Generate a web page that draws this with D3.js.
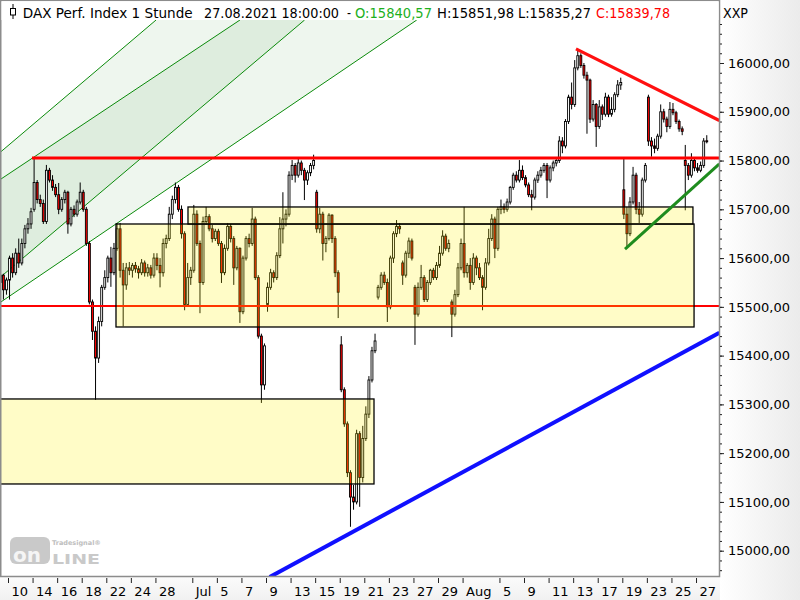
<!DOCTYPE html>
<html><head><meta charset="utf-8">
<script src="https://cdn.jsdelivr.net/npm/d3@7/dist/d3.min.js"></script>
<style>html,body{margin:0;padding:0;background:#fff;}svg{display:block;font-family:"DejaVu Sans",Tahoma,sans-serif;}</style>
</head><body><svg id="c" width="800" height="600"></svg>
<script>
// ---- DATA ----
// hourly candles aggregated, 4 per trading day, starting with Jun 9 (day -1)
const ohlc = [
[15555,15575,15540,15550],[15550,15570,15545,15565],[15565,15568,15515,15535],[15535,15560,15525,15555],
[15555,15605,15515,15600],[15600,15610,15560,15570],[15570,15620,15565,15610],[15610,15640,15580,15590],
[15590,15640,15585,15630],[15630,15668,15620,15660],[15660,15682,15650,15670],[15670,15703,15660,15695],
[15700,15806,15695,15755],[15755,15760,15712,15720],[15720,15730,15705,15712],[15712,15720,15670,15675],
[15675,15791,15670,15780],[15780,15785,15755,15760],[15760,15770,15738,15745],[15745,15752,15725,15730],
[15730,15754,15690,15700],[15700,15725,15695,15720],[15720,15740,15712,15735],[15735,15738,15650,15670],
[15670,15705,15665,15700],[15700,15708,15684,15690],[15690,15720,15685,15715],[15715,15755,15710,15735],
[15735,15740,15695,15700],[15700,15705,15625,15630],[15630,15635,15505,15510],[15510,15515,15432,15450],
[15450,15460,15309,15395],[15395,15480,15385,15470],[15470,15545,15460,15540],[15540,15575,15535,15560],
[15560,15605,15550,15600],[15600,15623,15541,15570],[15570,15631,15565,15620],[15620,15672,15615,15660],
[15660,15672,15560,15575],[15575,15590,15460,15545],[15545,15590,15535,15580],[15580,15592,15565,15575],
[15575,15590,15560,15585],[15585,15592,15570,15578],[15578,15584,15558,15570],[15570,15598,15565,15590],
[15590,15595,15562,15570],[15570,15588,15562,15580],[15580,15586,15558,15565],[15565,15610,15560,15600],
[15600,15610,15575,15585],[15585,15600,15540,15570],[15570,15640,15562,15630],[15630,15648,15620,15640],
[15640,15705,15635,15690],[15690,15728,15680,15720],[15720,15755,15712,15745],[15745,15750,15695,15700],
[15700,15708,15640,15650],[15650,15655,15493,15505],[15505,15590,15500,15560],[15560,15582,15545,15575],
[15575,15709,15570,15690],[15690,15698,15625,15630],[15630,15636,15487,15550],[15550,15685,15545,15675],
[15675,15705,15668,15685],[15685,15690,15655,15660],[15660,15668,15632,15640],[15640,15660,15635,15655],
[15655,15660,15625,15630],[15630,15635,15549,15570],[15570,15628,15565,15620],[15620,15672,15615,15665],
[15665,15670,15632,15640],[15640,15645,15545,15580],[15580,15625,15575,15620],[15620,15622,15467,15490],
[15490,15605,15485,15600],[15600,15645,15595,15640],[15640,15650,15622,15630],[15630,15703,15625,15680],
[15680,15685,15555,15560],[15560,15565,15435,15440],[15440,15445,15303,15340],[15340,15425,15330,15420],
[15505,15550,15490,15540],[15540,15578,15535,15570],[15570,15575,15550,15560],[15560,15612,15555,15605],
[15605,15684,15600,15660],[15660,15735,15630,15680],[15680,15700,15665,15690],[15690,15778,15685,15770],
[15770,15801,15760,15790],[15790,15795,15755,15770],[15770,15807,15765,15795],[15795,15800,15770,15780],
[15780,15785,15719,15760],[15760,15780,15750,15775],[15775,15795,15768,15790],[15790,15812,15782,15800],
[15735,15740,15652,15660],[15660,15703,15651,15690],[15690,15695,15595,15630],[15630,15645,15612,15640],
[15640,15692,15636,15688],[15688,15690,15631,15640],[15640,15645,15561,15570],[15570,15575,15477,15530],
[15422,15440,15325,15330],[15330,15335,15254,15260],[15260,15265,15151,15160],[15160,15165,15049,15110],
[15110,15135,15084,15100],[15100,15248,15095,15240],[15240,15245,15090,15150],[15150,15256,15140,15230],
[15230,15296,15225,15280],[15280,15358,15272,15350],[15350,15418,15345,15410],[15410,15445,15405,15430],
[15520,15545,15515,15540],[15540,15571,15535,15565],[15565,15572,15545,15550],[15550,15558,15469,15500],
[15500,15605,15495,15600],[15600,15655,15590,15650],[15650,15678,15643,15665],[15665,15672,15650,15660],
[15590,15595,15545,15565],[15565,15615,15560,15610],[15610,15642,15600,15635],[15635,15640,15595,15600],
[15540,15545,15422,15485],[15485,15550,15480,15540],[15540,15586,15535,15560],[15560,15565,15510,15515],
[15515,15555,15510,15550],[15550,15578,15545,15575],[15575,15580,15555,15560],[15560,15592,15555,15585],
[15585,15625,15580,15610],[15610,15657,15605,15645],[15645,15650,15615,15620],[15620,15638,15612,15630],
[15510,15515,15438,15485],[15485,15535,15480,15525],[15525,15590,15520,15580],[15580,15640,15575,15630],
[15630,15705,15560,15570],[15570,15590,15560,15585],[15585,15600,15535,15550],[15550,15610,15545,15600],
[15600,15605,15565,15580],[15580,15590,15555,15560],[15560,15565,15493,15540],[15540,15600,15535,15590],
[15590,15660,15585,15640],[15640,15690,15635,15680],[15680,15685,15600,15620],[15620,15705,15615,15700],
[15700,15720,15690,15705],[15705,15712,15692,15700],[15700,15722,15695,15715],[15715,15748,15710,15745],
[15745,15775,15740,15770],[15770,15778,15755,15760],[15760,15801,15755,15780],[15780,15790,15760,15765],
[15765,15770,15745,15750],[15750,15755,15725,15730],[15730,15740,15698,15725],[15725,15765,15720,15760],
[15760,15778,15754,15770],[15770,15787,15765,15780],[15780,15795,15775,15790],[15790,15795,15723,15760],
[15760,15790,15755,15785],[15785,15800,15778,15795],[15795,15805,15788,15800],[15800,15850,15795,15840],
[15840,15848,15815,15830],[15830,15885,15825,15880],[15880,15935,15875,15930],[15930,15960,15905,15915],
[15915,16006,15910,15990],[15990,16029,15985,16015],[16015,16020,15990,15995],[15995,16000,15968,15975],
[15975,15982,15855,15965],[15965,15968,15877,15885],[15885,15924,15880,15915],[15915,15918,15828,15870],
[15870,15924,15865,15910],[15910,15915,15883,15895],[15895,15939,15890,15930],[15930,15935,15889,15895],
[15895,15930,15890,15905],[15905,15940,15899,15935],[15935,15965,15930,15955],[15955,15970,15945,15960],
[15740,15805,15680,15690],[15690,15705,15620,15650],[15650,15725,15645,15715],[15715,15787,15710,15770],
[15770,15775,15690,15700],[15700,15715,15672,15690],[15690,15765,15685,15760],[15760,15795,15755,15790],
[15930,15935,15830,15840],[15840,15848,15808,15830],[15830,15845,15815,15825],[15825,15855,15820,15850],
[15850,15915,15845,15900],[15900,15906,15878,15885],[15885,15890,15858,15870],[15870,15920,15865,15905],
[15905,15918,15893,15898],[15898,15902,15875,15880],[15880,15884,15859,15865],[15865,15870,15852,15860],
[15800,15832,15698,15790],[15790,15795,15760,15770],[15770,15815,15765,15800],[15800,15805,15778,15785],
[15785,15795,15775,15780],[15780,15798,15776,15790],[15790,15846,15785,15840],[15840.57,15851.98,15835.27,15839.78]
];
const firstDay = -1;
const candlesPerDay = 4;

const xTickDays   = [0,2,4,6,8,10,12,15,17,19,21,23,25,27,29,31,33,35,37,40,42,44,46,48,50,52,54,56];
const xTickLabels = ["10","14","16","18","22","24","28","Jul","5","7","9","13","15","19","21","23","27","29","Aug","5","9","11","13","17","19","23","25","27"];
const yMajorTicks = [15000,15100,15200,15300,15400,15500,15600,15700,15800,15900,16000];
const yMinorTicks = d3.range(14960, 16090, 20);

// drawing tools (day, price)
const hLineLevels = [15805, 15502];
const hLineStart  = [1.95, -0.7];
const channelA = [[-0.7,15815.5],[12.05,16088.2],[24.14,16088.2],[-0.7,15559.2]];
const channelB = [[-0.7,15760],[18.88,16088.2],[33.27,16088.2],[-0.7,15507.9]];
const channelLines = [
  [[-0.7,15815.5],[12.05,16088.2]],
  [[-0.7,15760],[18.88,16088.2]],
  [[-0.7,15559.2],[24.14,16088.2]],
  [[-0.7,15507.9],[33.27,16088.2]]
];
const boxes = [ // [dayFrom, dayTo, priceTop, priceBottom]
  [8.79, 55.84, 15669.9, 15458.7],
  [14.65, 55.75, 15704.8, 15669.9],
  [-0.7, 29.79, 15311.1, 15136.8]
];
const blueLine  = [[21.3,14946],[57.9,15447]];
const redDown   = [[46.23,16029],[57.9,15882]];
const greenUp   = [[50.22,15618.6],[57.9,15793]];

const header = [
  {t:"DAX Perf. Index 1 Stunde", x:22.7, w:170, c:"#000"},
  {t:"27.08.2021 18:00:00", x:204, w:135, c:"#000"},
  {t:"-", x:347, w:4, c:"#000"},
  {t:"O:15840,57", x:355, w:77, c:"#1db01d"},
  {t:"H:15851,98", x:437, w:77, c:"#000"},
  {t:"L:15835,27", x:518, w:73, c:"#000"},
  {t:"C:15839,78", x:596, w:74, c:"#ff0000"}
];

// ---- CHART ----
const svg = d3.select("#c");
const W = 800, H = 600;
const plot = {l:0, r:719, t:20, b:576};
const x = d3.scaleLinear().domain([0,57]).range([8, 8+12.286*57]);
const y = d3.scaleLinear().domain([14948.1, 16088.2]).range([576, 20]);
const loc = d3.formatLocale({decimal:",", thousands:"", grouping:[3], currency:["",""]});
const fmt = loc.format(".2f");

const defs = svg.append("defs");
const gR = defs.append("linearGradient").attr("id","gr").attr("x1","0").attr("x2","1").attr("y1","0").attr("y2","0");
gR.append("stop").attr("offset","0").attr("stop-color","#ffffff");
gR.append("stop").attr("offset","1").attr("stop-color","#ebebeb");
const gB = defs.append("linearGradient").attr("id","gb").attr("x1","0").attr("x2","0").attr("y1","0").attr("y2","1");
gB.append("stop").attr("offset","0").attr("stop-color","#fbfbfb");
gB.append("stop").attr("offset","1").attr("stop-color","#f1f1f1");
defs.append("clipPath").attr("id","clip").append("rect")
  .attr("x",plot.l).attr("y",plot.t).attr("width",plot.r-plot.l).attr("height",plot.b-plot.t);

svg.append("rect").attr("width",W).attr("height",H).attr("fill","#fff");
svg.append("rect").attr("x",0).attr("y",577).attr("width",720).attr("height",23).attr("fill","url(#gb)");
svg.append("rect").attr("x",720).attr("y",0).attr("width",80).attr("height",600).attr("fill","url(#gr)");

const g = svg.append("g").attr("clip-path","url(#clip)");
const lineGen = d3.line().x(d=>x(d[0])).y(d=>y(d[1]));

// channels
[channelA, channelB].forEach(poly=>{
  g.append("path").attr("d", lineGen(poly)+"Z").attr("fill","#007a00").attr("fill-opacity",0.068);
});
channelLines.forEach(l=>{
  g.append("path").attr("d", lineGen(l)).attr("stroke","#0a8a0a").attr("stroke-width",1).attr("fill","none");
});

// candles
const slot = (x(1)-x(0))/candlesPerDay;
const bw = slot*0.62;
const cData = ohlc.map((d,i)=>{
  const day = firstDay + Math.floor(i/candlesPerDay) + ((i%candlesPerDay)+0.5)/candlesPerDay;
  return {day, o:d[0], h:d[1], l:d[2], c:d[3]};
});
const cg = g.append("g");
cg.selectAll("line.w").data(cData).join("line").attr("class","w")
  .attr("x1",d=>x(d.day)).attr("x2",d=>x(d.day))
  .attr("y1",d=>y(d.h)).attr("y2",d=>y(d.l))
  .attr("stroke","#000").attr("stroke-width",1);
cg.selectAll("rect").data(cData).join("rect")
  .attr("x",d=>x(d.day)-bw/2).attr("width",bw)
  .attr("y",d=>y(Math.max(d.o,d.c)))
  .attr("height",d=>Math.max(1, Math.abs(y(d.o)-y(d.c))))
  .attr("fill",d=>d.c>=d.o?"#ffffff":"#ff0000")
  .attr("stroke","#000").attr("stroke-width",0.9);

// horizontal red lines
hLineLevels.forEach((p,i)=>{
  g.append("line").attr("x1",x(hLineStart[i])).attr("x2",plot.r)
    .attr("y1",y(p)).attr("y2",y(p))
    .attr("stroke","#ff0000").attr("stroke-width", i===0?3:2);
});

// boxes (translucent)
boxes.forEach(b=>{
  g.append("rect").attr("x",x(b[0])).attr("y",y(b[2]))
    .attr("width",x(b[1])-x(b[0])).attr("height",y(b[3])-y(b[2]))
    .attr("fill","rgb(255,240,0)").attr("fill-opacity",0.22)
    .attr("stroke","#000").attr("stroke-width",1.3);
});

// trend lines
g.append("path").attr("d",lineGen(blueLine)).attr("stroke","#1010ff").attr("stroke-width",4).attr("fill","none");
g.append("path").attr("d",lineGen(redDown)).attr("stroke","#ff1010").attr("stroke-width",3.2).attr("fill","none");
g.append("path").attr("d",lineGen(greenUp)).attr("stroke","#1e8c1e").attr("stroke-width",3).attr("fill","none");

// frame
svg.append("path").attr("d",`M0.75,0.5 H719.5 V576.5 H0.75 Z`).attr("fill","none").attr("stroke","#8c8c8c").attr("stroke-width",1.5);

// y axis
const yMinor = d3.axisRight(y).tickValues(yMinorTicks).tickSize(2).tickFormat("");
const yAx = svg.append("g").attr("transform","translate(720,0)").call(yMinor);
yAx.select(".domain").remove();
yAx.selectAll("line").attr("stroke","#222");
const yMaj = svg.append("g").attr("transform","translate(720,0)")
  .call(d3.axisRight(y).tickValues(yMajorTicks).tickSize(4).tickPadding(4).tickFormat(fmt));
yMaj.select(".domain").remove();
yMaj.selectAll("line").attr("stroke","#222");
yMaj.selectAll("text").attr("font-size","13px").attr("font-family","'DejaVu Sans',Tahoma,sans-serif").attr("fill","#000");

// x axis
const xAx = svg.append("g").attr("transform","translate(0,577)")
  .call(d3.axisBottom(x).tickValues(xTickDays).tickSize(5).tickPadding(0)
    .tickFormat((d,i)=>xTickLabels[i]));
xAx.select(".domain").remove();
xAx.selectAll("line").attr("stroke","#222").attr("transform","translate(0,1)");
xAx.selectAll("text").attr("text-anchor","start").attr("x",3).attr("y",19).attr("dy",0)
  .attr("font-size","13px").attr("font-family","'DejaVu Sans',Tahoma,sans-serif").attr("fill","#000");

// header
svg.append("rect").attr("x",1.5).attr("y",1.2).attr("width",717).attr("height",18.8).attr("fill","#fff");
svg.append("line").attr("x1",13).attr("x2",13).attr("y1",4).attr("y2",19).attr("stroke","#000");
svg.append("rect").attr("x",10.5).attr("y",8.5).attr("width",5).attr("height",6.5).attr("fill","#fff").attr("stroke","#000");
header.forEach(h=>{
  svg.append("text").attr("x",h.x).attr("y",17.5).attr("fill",h.c)
    .attr("font-size","13.5px").attr("textLength",h.w).attr("lengthAdjust","spacingAndGlyphs").text(h.t);
});
svg.append("text").attr("x",723).attr("y",18).attr("font-size","13.5px").attr("textLength",25)
  .attr("lengthAdjust","spacingAndGlyphs").text("XXP");

// logo watermark
const lg = svg.append("g").attr("opacity",0.9);
lg.append("rect").attr("x",10).attr("y",537).attr("width",40).attr("height",27).attr("rx",6).attr("fill","#c4c4c4");
lg.append("text").attr("x",13).attr("y",562).attr("font-size","20px").attr("font-weight","bold").attr("fill","#f4f4f4").text("on");
lg.append("text").attr("x",52).attr("y",564).attr("font-size","14px").attr("font-weight","bold")
  .attr("textLength",48).attr("lengthAdjust","spacingAndGlyphs").attr("fill","#c4c4c4").text("LINE");
lg.append("text").attr("x",52).attr("y",545).attr("font-size","6.5px").attr("font-weight","bold").attr("fill","#b8b8b8").text("Tradesignal®");
</script></body></html>
